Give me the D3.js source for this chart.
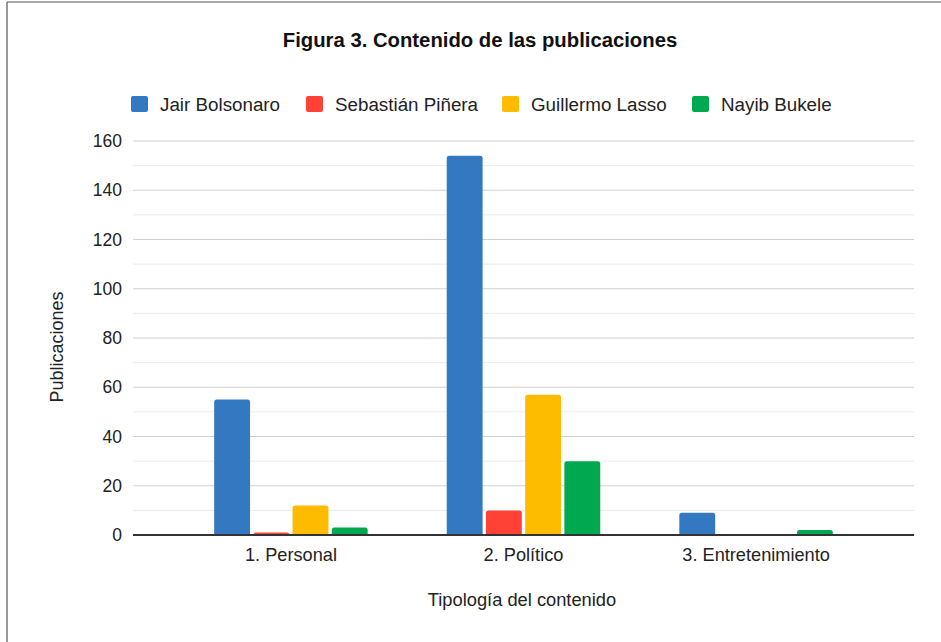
<!DOCTYPE html>
<html><head><meta charset="utf-8">
<script src="https://cdn.jsdelivr.net/npm/d3@7"></script>
<style>body{margin:0;background:#fff}svg{display:block;font-family:"Liberation Sans",Arial,sans-serif}</style>
</head><body>
<script>
const categories = ["1. Personal", "2. Político", "3. Entretenimiento"];
const seriesNames = ["Jair Bolsonaro", "Sebastián Piñera", "Guillermo Lasso", "Nayib Bukele"];
const bolsonaro = [55, 154, 9];
const pinera = [1, 10, 0];
const lasso = [12, 57, 0];
const bukele = [3, 30, 2];
const seriesValues = [bolsonaro, pinera, lasso, bukele];
const colors = ["#3279c1", "#ff4136", "#ffbb00", "#00a94f"];
const yTicks = [0, 20, 40, 60, 80, 100, 120, 140, 160];
const yMinor = [10, 30, 50, 70, 90, 110, 130, 150];

const W = 941, H = 642;
const plotL = 133, plotR = 914, plotT = 141, plotB = 535;
const svg = d3.select("body").append("svg").attr("width", W).attr("height", H);

// border
svg.append("line").attr("x1", 7).attr("x2", 7).attr("y1", 2).attr("y2", H).attr("stroke", "#555").attr("stroke-width", 1.2);
svg.append("line").attr("x1", 7).attr("x2", W).attr("y1", 2).attr("y2", 2).attr("stroke", "#555").attr("stroke-width", 1.2);

const y = d3.scaleLinear().domain([0, 160]).range([plotB, plotT]);
const x0 = d3.scaleBand().domain(categories).range([plotL, plotR]).paddingInner(0).paddingOuter(0.179);
const groupW = x0.bandwidth() * 0.66;
const x1 = d3.scaleBand().domain(seriesNames).range([0, groupW]).paddingInner(0.085);

// minor gridlines
svg.append("g").selectAll("line").data(yMinor).join("line")
  .attr("x1", plotL).attr("x2", plotR).attr("y1", d => y(d)).attr("y2", d => y(d))
  .attr("stroke", "#ebebeb").attr("stroke-width", 1);
// major gridlines
svg.append("g").selectAll("line").data(yTicks.filter(d => d > 0)).join("line")
  .attr("x1", plotL).attr("x2", plotR).attr("y1", d => y(d)).attr("y2", d => y(d))
  .attr("stroke", "#d0d0d0").attr("stroke-width", 1);

// y axis labels
const yAxis = d3.axisLeft(y).tickValues(yTicks).tickSize(0).tickPadding(11);
const gy = svg.append("g").attr("transform", `translate(${plotL},0)`).call(yAxis);
gy.select(".domain").remove();
gy.selectAll("text").attr("font-size", 17.5).attr("fill", "#222").attr("font-family", "Liberation Sans, Arial, sans-serif");

function barPath(x, yTop, w, h, r) {
  if (h <= 0) return "";
  r = Math.min(r, h, w / 2);
  return `M${x},${yTop + h}V${yTop + r}Q${x},${yTop} ${x + r},${yTop}H${x + w - r}Q${x + w},${yTop} ${x + w},${yTop + r}V${yTop + h}Z`;
}

// bars
const groups = svg.append("g").selectAll("g").data(categories).join("g")
  .attr("transform", c => `translate(${x0(c) + x0.bandwidth() / 2 - groupW / 2},0)`);
groups.selectAll("path").data((c, i) => seriesNames.map((s, j) => ({ s, v: seriesValues[j][i], col: colors[j] })))
  .join("path")
  .attr("d", d => barPath(x1(d.s), y(d.v), x1.bandwidth(), y(0) - y(d.v), 2.5))
  .attr("fill", d => d.col);

// baseline
svg.append("line").attr("x1", plotL).attr("x2", plotR).attr("y1", y(0)).attr("y2", y(0))
  .attr("stroke", "#333").attr("stroke-width", 2);

// x axis labels
const xAxis = d3.axisBottom(x0).tickSize(0).tickPadding(13);
const gx = svg.append("g").attr("transform", `translate(0,${plotB})`).call(xAxis);
gx.select(".domain").remove();
gx.selectAll("text").attr("font-size", 18.2).attr("fill", "#222").attr("font-family", "Liberation Sans, Arial, sans-serif");

// axis titles
svg.append("text").attr("x", 522).attr("y", 606).attr("text-anchor", "middle")
  .attr("font-size", 18.3).attr("fill", "#222").text("Tipología del contenido");
svg.append("text").attr("transform", "translate(63,347) rotate(-90)").attr("text-anchor", "middle")
  .attr("font-size", 18).attr("fill", "#222").text("Publicaciones");

// title
svg.append("text").attr("x", 480).attr("y", 47).attr("text-anchor", "middle")
  .attr("font-size", 20.3).attr("font-weight", "bold").attr("fill", "#111")
  .text("Figura 3. Contenido de las publicaciones");

// legend
const legendX = [131, 306, 502, 692];
const lg = svg.append("g").selectAll("g").data(seriesNames).join("g")
  .attr("transform", (d, i) => `translate(${legendX[i]},96)`);
lg.append("rect").attr("width", 17).attr("height", 16).attr("rx", 2).attr("fill", (d, i) => colors[i]);
lg.append("text").attr("x", 29).attr("y", 14.5).attr("font-size", 18.8).attr("fill", "#222").text(d => d);
</script>
</body></html>
